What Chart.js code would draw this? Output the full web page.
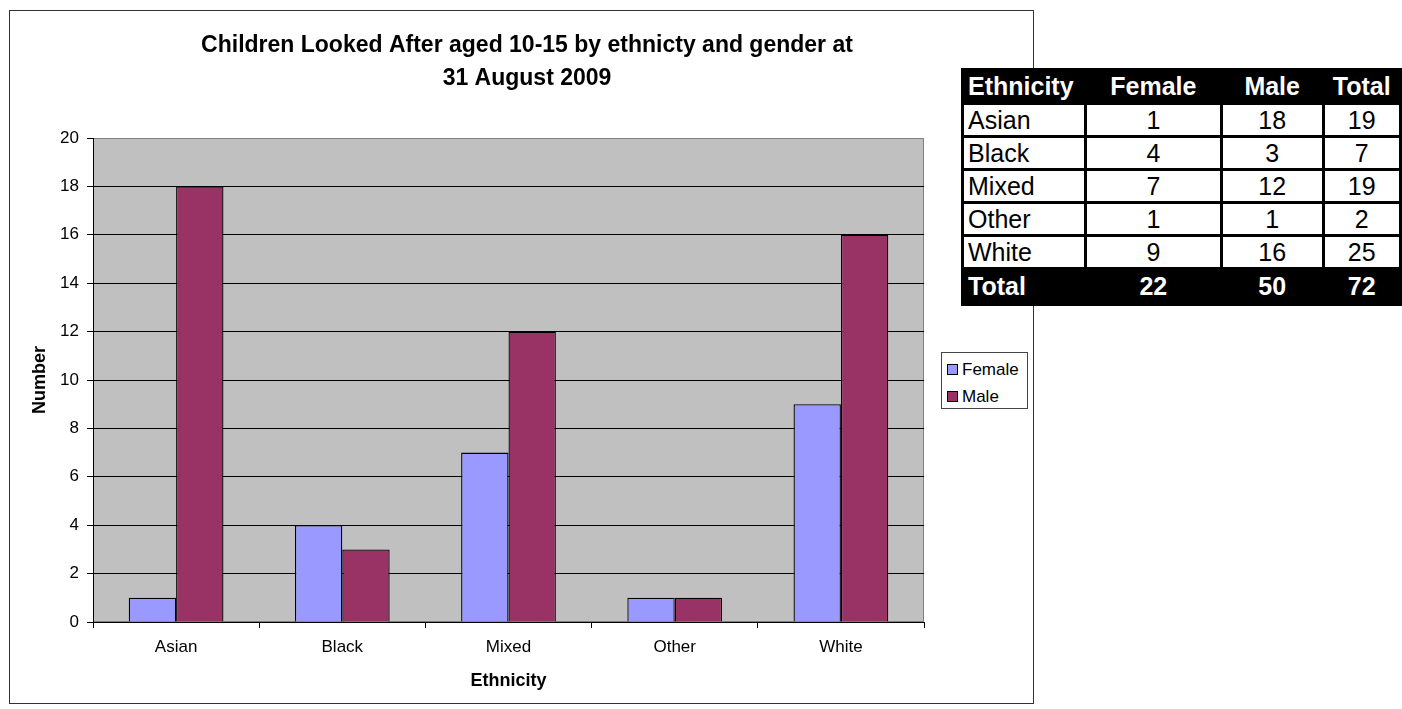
<!DOCTYPE html>
<html>
<head>
<meta charset="utf-8">
<script src="https://cdn.jsdelivr.net/npm/chart.js@4/dist/chart.umd.min.js"></script>
<style>
  body { margin: 0; background: #fff; overflow: hidden; font-family: Arial, "Liberation Sans", sans-serif; }
  #stage { position: relative; width: 1402px; height: 709px; }
  #frame { position: absolute; left: 9px; top: 10px; width: 1025px; height: 694px; box-sizing: border-box; border: 1px solid #333; }
  #chartCanvas { position: absolute; left: 0; top: 0; }
  #legend { position: absolute; left: 941px; top: 352px; width: 87px; height: 57px; box-sizing: border-box;
    border: 1px solid #444; background: #fff; font-size: 17px; padding-top: 3px; }
  #legend .item { display: flex; align-items: center; height: 27px; padding-left: 5px; }
  #legend .sw { width: 9px; height: 9px; border: 1px solid #000; margin-right: 4px; }
  #dataTable { position: absolute; left: 961px; top: 68px; border-collapse: collapse; background: #fff;
    font-size: 25px; color: #000; }
  #dataTable td, #dataTable th { border: 3px solid #000; padding: 0 4px; height: 30px; line-height: 27px; }
  #dataTable th, #dataTable tr.total td { background: #000; color: #fff; font-weight: bold; }
  #dataTable th { height: 31px; }
  #dataTable tr.total td { height: 33px; }
  #dataTable .name { text-align: left; width: 113px; }
  #dataTable .num { text-align: center; }
</style>
</head>
<body>
<div id="stage">
  <div id="frame"></div>
  <canvas id="chartCanvas" width="1054" height="709"></canvas>
  <div id="legend"></div>
  <table id="dataTable"></table>
</div>
<script>
const titleLines = ["Children Looked After aged 10-15 by ethnicty and gender at", "31 August 2009"];
const ethnicities = ["Asian", "Black", "Mixed", "Other", "White"];
const femaleCounts = [1, 4, 7, 1, 9];
const maleCounts = [18, 3, 12, 1, 16];
const seriesNames = ["Female", "Male"];
const seriesColors = ["#9999FF", "#993366"];
const yMin = 0, yMax = 20, yStep = 2;
const tableHeaders = ["Ethnicity", "Female", "Male", "Total"];
const colWidths = [113, 132, 97, 68];

const FONT = "Arial, 'Liberation Sans', sans-serif";

// plot background + grey border like the spreadsheet chart
const plotArea = {
  id: "plotArea",
  beforeDraw(chart) {
    const { ctx, chartArea: a } = chart;
    ctx.save();
    ctx.fillStyle = "#C0C0C0";
    ctx.fillRect(a.left, a.top, a.right - a.left, a.bottom - a.top);
    ctx.strokeStyle = "#808080";
    ctx.lineWidth = 1;
    ctx.strokeRect(a.left + 0.5, a.top + 0.5, a.right - a.left - 1, a.bottom - a.top - 1);
    ctx.restore();
  },
};

const chart = new Chart(document.getElementById("chartCanvas"), {
  type: "bar",
  data: {
    labels: ethnicities,
    datasets: [
      { label: seriesNames[0], data: femaleCounts, backgroundColor: seriesColors[0] },
      { label: seriesNames[1], data: maleCounts, backgroundColor: seriesColors[1] },
    ].map((d) => ({ ...d, borderColor: "#000", borderWidth: 1.3, categoryPercentage: 0.57, barPercentage: 1 })),
  },
  options: {
    responsive: false,
    animation: false,
    layout: { padding: 0 },
    plugins: {
      legend: { display: false },
      tooltip: { enabled: false },
      title: {
        display: true,
        text: titleLines,
        color: "#000",
        font: { family: FONT, size: 23, weight: "bold", lineHeight: 1.45 },
        padding: { top: 29, bottom: 42.3 },
      },
    },
    scales: {
      x: {
        grid: { drawOnChartArea: false, drawTicks: true, tickLength: 6, tickColor: "#000" },
        border: { color: "#000", width: 1 },
        ticks: { color: "#000", font: { family: FONT, size: 17 }, padding: 9 },
        title: { display: true, text: "Ethnicity", color: "#000", font: { family: FONT, size: 18, weight: "bold" }, padding: { top: 0, bottom: 17 } },
        afterFit(scale) { scale.height = 87; },
      },
      y: {
        min: yMin,
        max: yMax,
        grid: {
          color: (c) => (c.tick && c.tick.value === yMax ? "#808080" : "#000"),
          tickColor: "#000",
          tickLength: 6,
        },
        border: { color: "#000", width: 1 },
        ticks: { stepSize: yStep, color: "#000", font: { family: FONT, size: 17 }, padding: 8 },
        title: { display: true, text: "Number", color: "#000", font: { family: FONT, size: 18, weight: "bold" }, padding: { top: 29, bottom: 0 } },
        afterFit(scale) { scale.width = 93; },
      },
      // empty right-hand space where the legend sits (keeps the title centred on the frame)
      legendGap: {
        axis: "y",
        position: "right",
        grid: { display: false },
        border: { display: false },
        ticks: { display: false },
        afterFit(scale) { scale.width = 130; },
      },
    },
  },
  plugins: [plotArea],
});

// legend box built from the chart datasets
const legend = document.getElementById("legend");
legend.innerHTML = chart.data.datasets.map((ds) =>
  `<div class="item"><span class="sw" style="background:${ds.backgroundColor}"></span>${ds.label}</div>`
).join("");

// summary table beside the chart
const table = document.getElementById("dataTable");
const rows = ethnicities.map((e, i) => [e, femaleCounts[i], maleCounts[i], femaleCounts[i] + maleCounts[i]]);
const sum = (arr) => arr.reduce((a, b) => a + b, 0);
const totalRow = ["Total", sum(femaleCounts), sum(maleCounts), sum(femaleCounts) + sum(maleCounts)];
const cell = (v, j, tag) => `<${tag} class="${j === 0 ? "name" : "num"}" style="width:${colWidths[j]}px">${v}</${tag}>`;
table.innerHTML =
  `<tr>${tableHeaders.map((h, j) => cell(h, j, "th")).join("")}</tr>` +
  rows.map((r) => `<tr>${r.map((v, j) => cell(v, j, "td")).join("")}</tr>`).join("") +
  `<tr class="total">${totalRow.map((v, j) => cell(v, j, "td")).join("")}</tr>`;
</script>
</body>
</html>
